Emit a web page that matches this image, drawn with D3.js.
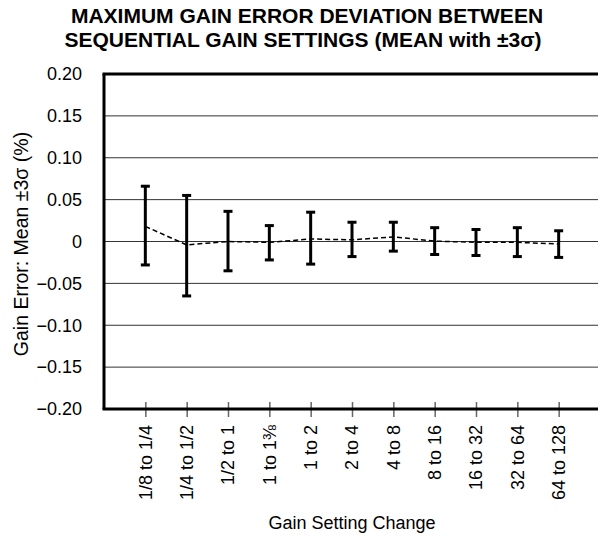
<!DOCTYPE html>
<html>
<head>
<meta charset="utf-8">
<script src="https://cdn.jsdelivr.net/npm/d3@7"></script>
<style>
  body { margin: 0; background: #fff; }
  text { font-family: "Liberation Sans", Arial, sans-serif; fill: #000; }
</style>
</head>
<body>
<div id="chart"></div>
<script>
// values
var categories = ['1/8 to 1/4', '1/4 to 1/2', '1/2 to 1', '1 to 1\u215C', '1 to 2', '2 to 4',
  '4 to 8', '8 to 16', '16 to 32', '32 to 64', '64 to 128'];
var meanVals = [0.018, -0.004, 0.000, -0.001, 0.003, 0.002, 0.0055, 0.0005, -0.001, -0.001, -0.003];
var upperVals = [0.066, 0.055, 0.036, 0.019, 0.035, 0.023, 0.023, 0.0165, 0.0143, 0.0165, 0.0128];
var lowerVals = [-0.028, -0.065, -0.035, -0.022, -0.027, -0.018, -0.0115, -0.0155, -0.0167, -0.018, -0.019];
var yTicks = [-0.20, -0.15, -0.10, -0.05, 0, 0.05, 0.10, 0.15, 0.20];

var svgWidth = 598;
var svgHeight = 537;

var margin = { top: 74, left: 104 };
var plotRight = 600;
var plotBottom = 409;

var svg = d3.select('#chart')
  .append('svg')
  .attr('width', svgWidth)
  .attr('height', svgHeight);

var data = categories.map(function(c, i) {
  return { cat: c, mean: meanVals[i], hi: upperVals[i], lo: lowerVals[i] };
});

var x = d3.scalePoint()
  .domain(categories)
  .range([margin.left, plotRight])
  .padding(1);

var y = d3.scaleLinear()
  .domain([-0.2, 0.2])
  .range([plotBottom, margin.top]);

// gridlines
svg.append('g')
  .selectAll('line')
  .data(yTicks.slice(1, -1))
  .enter()
  .append('line')
  .attr('x1', margin.left)
  .attr('x2', plotRight)
  .attr('y1', d => y(d))
  .attr('y2', d => y(d))
  .attr('stroke', '#333')
  .attr('stroke-width', 1);

// y axis labels
var fmt = d3.format('.2f');
var yAxis = svg.append('g')
  .attr('transform', `translate(${margin.left},0)`)
  .call(d3.axisLeft(y).tickValues(yTicks).tickSize(0).tickPadding(22)
    .tickFormat(d => d === 0 ? '0' : fmt(d)));
yAxis.select('.domain').remove();
yAxis.selectAll('text').style('font-size', '18px');

// x axis: ticks crossing the bottom line
var xAxis = svg.append('g')
  .attr('transform', `translate(0,${plotBottom})`)
  .call(d3.axisBottom(x).tickSize(8).tickFormat(''));
xAxis.select('.domain').remove();
xAxis.selectAll('.tick line')
  .attr('y1', -7)
  .attr('y2', 8)
  .attr('stroke', '#666')
  .attr('stroke-width', 1.5);

// rotated category labels
svg.append('g')
  .selectAll('text')
  .data(categories)
  .enter()
  .append('text')
  .attr('transform', d => `translate(${x(d)},${plotBottom + 16}) rotate(-90)`)
  .attr('text-anchor', 'end')
  .attr('dy', '0.36em')
  .style('font-size', '18px')
  .text(d => d);

// frame
var frame = svg.append('g').attr('stroke', '#000').attr('stroke-width', 3);
frame.append('line').attr('x1', margin.left - 1.5).attr('x2', plotRight).attr('y1', y(0.2)).attr('y2', y(0.2));
frame.append('line').attr('x1', margin.left - 1.5).attr('x2', plotRight).attr('y1', y(-0.2)).attr('y2', y(-0.2));
frame.append('line').attr('x1', margin.left).attr('x2', margin.left).attr('y1', y(0.2)).attr('y2', y(-0.2));

// mean line (dashed)
var meanLine = d3.line()
  .x(d => x(d.cat))
  .y(d => y(d.mean));

svg.append('path')
  .datum(data)
  .attr('d', meanLine)
  .attr('fill', 'none')
  .attr('stroke', '#000')
  .attr('stroke-width', 1.5)
  .attr('stroke-dasharray', '5,3');

// error bars
var bars = svg.append('g')
  .selectAll('g')
  .data(data)
  .enter()
  .append('g')
  .attr('stroke', '#000')
  .attr('stroke-width', 3);

bars.append('line')
  .attr('x1', d => x(d.cat))
  .attr('x2', d => x(d.cat))
  .attr('y1', d => y(d.hi))
  .attr('y2', d => y(d.lo));

bars.append('line')
  .attr('x1', d => x(d.cat) - 4.5)
  .attr('x2', d => x(d.cat) + 4.5)
  .attr('y1', d => y(d.hi))
  .attr('y2', d => y(d.hi));

bars.append('line')
  .attr('x1', d => x(d.cat) - 4.5)
  .attr('x2', d => x(d.cat) + 4.5)
  .attr('y1', d => y(d.lo))
  .attr('y2', d => y(d.lo));

// titles
svg.append('text')
  .attr('x', 307)
  .attr('y', 23)
  .attr('text-anchor', 'middle')
  .style('font-size', '21px')
  .style('font-weight', 'bold')
  .text('MAXIMUM GAIN ERROR DEVIATION BETWEEN');

svg.append('text')
  .attr('x', 303)
  .attr('y', 47)
  .attr('text-anchor', 'middle')
  .style('font-size', '21px')
  .style('font-weight', 'bold')
  .text('SEQUENTIAL GAIN SETTINGS (MEAN with \u00B13\u03C3)');

svg.append('text')
  .attr('x', 352)
  .attr('y', 529)
  .attr('text-anchor', 'middle')
  .style('font-size', '18px')
  .text('Gain Setting Change');

svg.append('text')
  .attr('transform', 'translate(28,244) rotate(-90)')
  .attr('text-anchor', 'middle')
  .style('font-size', '19.5px')
  .text('Gain Error: Mean \u00B13\u03C3 (%)');
</script>
</body>
</html>
